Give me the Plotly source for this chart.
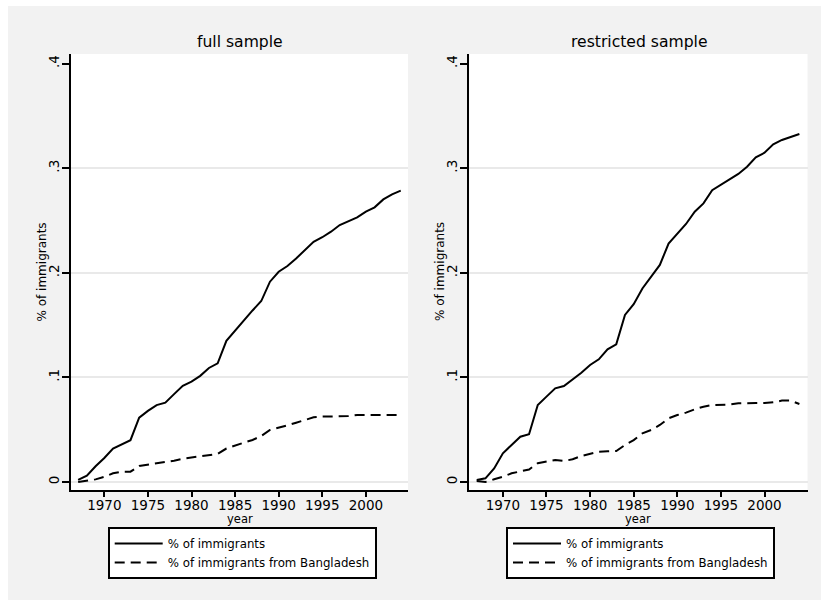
import plotly.graph_objects as go

years = list(range(1967, 2005))

full_all = [0.002, 0.006, 0.015, 0.023, 0.032, 0.036, 0.040, 0.0615, 0.068, 0.0735,
            0.0758, 0.084, 0.092, 0.096, 0.1015, 0.109, 0.1135, 0.135, 0.145, 0.154,
            0.164, 0.173, 0.1915, 0.201, 0.2065, 0.2137, 0.2218, 0.2297, 0.234, 0.2393,
            0.2457, 0.2495, 0.253, 0.2584, 0.2626, 0.2702, 0.275, 0.2785]
full_bd = [0.000, 0.001, 0.0025, 0.005, 0.0083, 0.0099, 0.0099, 0.0153, 0.0166, 0.0178,
           0.0185, 0.0204, 0.0223, 0.0236, 0.0243, 0.0255, 0.0268, 0.032, 0.035, 0.0376,
           0.0402, 0.044, 0.0497, 0.0523, 0.0542, 0.0567, 0.0593, 0.0618, 0.0625, 0.0625,
           0.0625, 0.063, 0.064, 0.064, 0.064, 0.064, 0.064, 0.064]
restr_all = [0.002, 0.0035, 0.013, 0.0274, 0.0354, 0.0433, 0.0456, 0.0736, 0.0816, 0.0896,
             0.0918, 0.098, 0.1045, 0.1119, 0.1173, 0.1268, 0.1316, 0.1597, 0.170, 0.185,
             0.196, 0.2075, 0.228, 0.2377, 0.2467, 0.2584, 0.2664, 0.279, 0.284, 0.2887,
             0.2945, 0.3015, 0.3104, 0.3148, 0.3228, 0.327, 0.330, 0.3327]
restr_bd = [0.001, 0.000, 0.0026, 0.005, 0.0083, 0.0099, 0.012, 0.018, 0.0194, 0.021,
            0.0201, 0.0217, 0.0249, 0.027, 0.0289, 0.0293, 0.0296, 0.0354, 0.040, 0.0465,
            0.0497, 0.0545, 0.0609, 0.064, 0.0663, 0.0695, 0.072, 0.0736, 0.0736, 0.074,
            0.0752, 0.0756, 0.0756, 0.0756, 0.0762, 0.0778, 0.0778, 0.0746]

panel_titles = ["full sample", "restricted sample"]
series_names = ["% of immigrants", "% of immigrants from Bangladesh"]
x_ticks = [1970, 1975, 1980, 1985, 1990, 1995, 2000]
y_ticks = [0, 0.1, 0.2, 0.3, 0.4]
y_ticktext = ["0", ".1", ".2", ".3", ".4"]
grid_vals = [0, 0.1, 0.2, 0.3]

FONT = "DejaVu Sans, Verdana, sans-serif"
W, H = 821, 600
DASH = "10px,6px"

fig = go.Figure()
panels = [(full_all, full_bd, "x", "y", "legend"), (restr_all, restr_bd, "x2", "y2", "legend2")]
for sol, das, xa, ya, lg in panels:
    fig.add_trace(go.Scatter(x=years, y=sol, mode="lines", name=series_names[0],
                             line=dict(color="black", width=2), xaxis=xa, yaxis=ya, legend=lg))
    fig.add_trace(go.Scatter(x=years, y=das, mode="lines", name=series_names[1],
                             line=dict(color="black", width=2, dash=DASH), xaxis=xa, yaxis=ya, legend=lg))

# plot regions in pixels
left_px = [(71, 408), (469.3, 807.5)]
top_px, bot_px = 54, 490
xranges = [[1966.18, 2004.83], [1966.15, 2004.93]]
yrange = [-0.00765, 0.4092]

def xaxis_cfg(i):
    return dict(domain=[left_px[i][0] / W, left_px[i][1] / W], range=xranges[i],
                anchor="y" if i == 0 else "y2", showgrid=False, zeroline=False,
                showline=True, linecolor="black", linewidth=2,
                ticks="outside", ticklen=5, tickwidth=1.5, tickcolor="black",
                ticklabelstandoff=-3,
                tickvals=x_ticks, tickfont=dict(family=FONT, size=13.5, color="black"))

def yaxis_cfg(i):
    return dict(domain=[1 - bot_px / H, 1 - top_px / H], range=yrange,
                anchor="x" if i == 0 else "x2", showgrid=False, zeroline=False,
                minor=dict(tickmode="array", tickvals=grid_vals, showgrid=True,
                           gridcolor="#e9e9e9", gridwidth=2, ticks=""),
                showline=True, linecolor="black", linewidth=2,
                ticks="outside", ticklen=7, tickwidth=1.5, tickcolor="black",
                ticklabelstandoff=-2,
                tickvals=y_ticks, ticktext=y_ticktext, tickangle=-90,
                tickfont=dict(family=FONT, size=13.5, color="black"))

annotations = []
for i in range(2):
    cx = (left_px[i][0] + left_px[i][1]) / 2 / W
    annotations.append(dict(text=panel_titles[i], x=cx + 1 / W, y=1 - 41.7 / H, xref="paper", yref="paper",
                            xanchor="center", yanchor="middle", showarrow=False,
                            font=dict(family=FONT, size=15.6, color="black")))
    annotations.append(dict(text="year", x=cx, y=1 - 519 / H, xref="paper", yref="paper",
                            xanchor="center", yanchor="middle", showarrow=False,
                            font=dict(family=FONT, size=11.5, color="black")))
    ytx = [41.5, 440][i]
    annotations.append(dict(text="% of immigrants", x=ytx / W, y=1 - 272 / H, xref="paper", yref="paper",
                            xanchor="center", yanchor="middle", showarrow=False, textangle=-90,
                            font=dict(family=FONT, size=12, color="black")))

legend_common = dict(xanchor="left", yanchor="top", bgcolor="white", bordercolor="black",
                     borderwidth=2, font=dict(family=FONT, size=11.8, color="black"),
                     itemwidth=48, traceorder="normal")

fig.update_layout(
    width=W, height=H, margin=dict(l=0, r=0, t=0, b=0),
    paper_bgcolor="#f2f2f2", plot_bgcolor="white",
    font=dict(family=FONT, color="black"),
    xaxis=xaxis_cfg(0), yaxis=yaxis_cfg(0), xaxis2=xaxis_cfg(1), yaxis2=yaxis_cfg(1),
    legend=dict(x=107.7 / W, y=1 - 527 / H, **legend_common),
    legend2=dict(x=506 / W, y=1 - 527 / H, **legend_common),
    annotations=annotations,
    shapes=[
        dict(type="rect", xref="paper", yref="paper", x0=0, x1=8 / W, y0=0, y1=1,
             fillcolor="white", line=dict(width=0), layer="above"),
        dict(type="rect", xref="paper", yref="paper", x0=0, x1=1, y0=1 - 6 / H, y1=1,
             fillcolor="white", line=dict(width=0), layer="above"),
    ],
)

fig.write_html("out.html")
